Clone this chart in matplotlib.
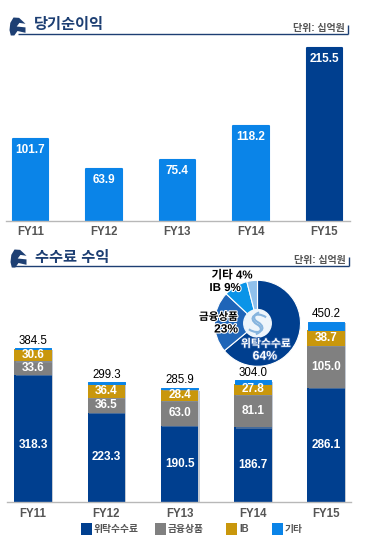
import matplotlib
matplotlib.use('Agg')
import matplotlib.pyplot as plt
import matplotlib.patheffects as pe
from matplotlib.path import Path
from matplotlib.patches import PathPatch, Circle, Rectangle

W, H = 371, 544
FONTS = ['Liberation Sans', 'Noto Sans CJK KR']

years = ['FY11', 'FY12', 'FY13', 'FY14', 'FY15']
net_income = [101.7, 63.9, 75.4, 118.2, 215.5]

brokerage = [318.3, 223.3, 190.5, 186.7, 286.1]
products = [33.6, 36.5, 63.0, 81.1, 105.0]
ib = [30.6, 36.4, 28.4, 27.8, 38.7]
other = [2.0, 3.1, 4.0, 8.4, 20.4]
totals = [384.5, 299.3, 285.9, 304.0, 450.2]

pie_names = ['위탁수수료', '금융상품', 'IB', '기타']
pie_shares = [64, 23, 9, 4]

NAVY = '#003f8f'
GREY = '#808080'
GOLD = '#c9970c'
BLUE = '#0a84e8'
pie_colors = [NAVY, '#1f65b8', '#0a94e8', '#8fc0ec']
shadow = [pe.SimplePatchShadow(offset=(1, -1), shadow_rgbFace='#8a97a8', alpha=0.5), pe.Normal()]


def px_axes(fig, x0, y0, x1, y1):
    # пиксели картинки -> координаты фигуры
    return fig.add_axes([x0 / W, 1 - y1 / H, (x1 - x0) / W, (y1 - y0) / H])


def style_axes(ax):
    for s in ['top', 'left', 'right']:
        ax.spines[s].set_visible(False)
    ax.spines['bottom'].set_color('#b8b8b8')
    ax.spines['bottom'].set_linewidth(1.0)
    ax.patch.set_alpha(0)
    ax.set_yticks([])
    ax.set_xticks(range(5))
    ax.set_xticklabels(years, family=FONTS, fontsize=8.3, fontweight='bold', color='#555555')
    ax.tick_params(axis='x', length=0, pad=4)


fig = plt.figure(figsize=(W / 100, H / 100), dpi=100)

# overlay in pixel coordinates for headers and legend
over = fig.add_axes([0, 0, 1, 1])
over.set_xlim(0, W)
over.set_ylim(H, 0)
over.axis('off')

# top chart
ax1 = px_axes(fig, 6, 40, 350, 220.5)
style_axes(ax1)
ax1.set_xlim((6 - 30.3) / 73.5, (350 - 30.3) / 73.5)
ax1.set_ylim(0, 180.5 / 0.802)
colors1 = [BLUE, BLUE, BLUE, BLUE, NAVY]
bars = ax1.bar(range(5), net_income, width=35.5 / 73.5, color=colors1, edgecolor=colors1,
               linewidth=1.5, joinstyle='round')
for b in bars:
    b.set_path_effects(shadow)
for i, v in enumerate(net_income):
    ax1.annotate(f'{v:.1f}', (i, v), xytext=(0, -8), textcoords='offset points', ha='center', va='center',
                 family=FONTS, fontsize=8.5, fontweight='bold', color='white')

# bottom chart
ax2 = px_axes(fig, 6.5, 310, 351, 502)
style_axes(ax2)
ax2.set_xlim((6.5 - 33) / 73.3, (351 - 33) / 73.3)
ax2.set_ylim(0, 192 / 0.4)
bottom = [0, 0, 0, 0, 0]
series = [(brokerage, NAVY), (products, GREY), (ib, GOLD), (other, BLUE)]
label_shift = [-7, 0, 0, 0, 0]
for k, (vals, c) in enumerate(series):
    if k == 3:
        seg = ax2.bar(range(5), vals, bottom=bottom, width=36.5 / 73.3, color=c, edgecolor=c,
                      linewidth=0.7, joinstyle='round')
    else:
        seg = ax2.bar(range(5), vals, bottom=bottom, width=37.5 / 73.3, color=c)
    for b in seg:
        b.set_path_effects(shadow)
    if k < 3:
        for i, v in enumerate(vals):
            ax2.annotate(f'{v:.1f}', (i, bottom[i] + v / 2),
                         xytext=(0, label_shift[i] * 0.72 if k == 0 else 0), textcoords='offset points',
                         ha='center', va='center', family=FONTS, fontsize=8.5, fontweight='bold', color='white',
                         zorder=5)
    bottom = [a + b for a, b in zip(bottom, vals)]
for i, v in enumerate(totals):
    ax2.annotate(f'{v:.1f}', (i, v), xytext=(0, 5.5), textcoords='offset points', ha='center', va='center',
                 family=FONTS, fontsize=8.3, color='black')

# pie
cx, cy, r = 257.5, 323.3, 43
ax3 = px_axes(fig, cx - r, cy - r, cx + r, cy + r)
ax3.pie(pie_shares, colors=pie_colors, startangle=90, counterclock=False, radius=1.0,
        wedgeprops=dict(edgecolor='white', linewidth=0.8))
ax3.set_xlim(-1, 1)
ax3.set_ylim(-1, 1)
ax3.add_patch(Circle((0, 0), 0.32, color='#eef5fb', zorder=5))
codes = [Path.MOVETO, Path.CURVE4, Path.CURVE4, Path.CURVE4, Path.CURVE4, Path.CURVE4, Path.CURVE4]
s_hi = Path([(0.20, 0.14), (-0.04, 0.30), (-0.24, 0.12), (-0.02, -0.02), (0.14, -0.10), (0.08, -0.22), (-0.04, -0.25)], codes)
s_lo = Path([(-0.20, -0.14), (0.04, -0.30), (0.24, -0.12), (0.02, 0.02), (-0.14, 0.10), (-0.08, 0.22), (0.04, 0.25)], codes)
for p in [s_hi, s_lo]:
    ax3.add_patch(PathPatch(p, fill=False, edgecolor='#86b4de', linewidth=1.5, zorder=6))

halo = [pe.withStroke(linewidth=1.6, foreground='white')]
dark = [pe.withStroke(linewidth=1.2, foreground='#2a5ea8')]
pie_text = [
    (232, 275.5, f'{pie_names[3]} {pie_shares[3]}%', 8.3, 'black', halo),
    (225, 288, f'{pie_names[2]} {pie_shares[2]}%', 8.3, 'black', halo),
    (218.5, 317, pie_names[1], 7.6, 'black', halo),
    (226, 329.5, f'{pie_shares[1]}%', 8.6, 'black', halo),
    (266, 344, pie_names[0], 7.8, 'white', dark),
    (265, 356.5, f'{pie_shares[0]}%', 8.8, 'white', dark),
]
for x, y, s, size, c, fx in pie_text:
    t = fig.text(x / W, 1 - y / H, s, ha='center', va='center', family=FONTS, fontsize=size,
                 fontweight='bold', color=c, zorder=10)
    t.set_path_effects(fx)

# headers
TITLE = '#1d3f73'
icon = [(0.25, 0), (0.6, 0.02), (1, 0.35), (0.62, 0.3), (0.45, 0.5), (1, 0.55), (1, 0.85), (0.5, 0.75),
        (0.3, 1), (0.08, 1), (0, 0.7), (0.05, 0.3)]
for x0, y0, yl, xl0, xl1, title in [(9.5, 17.5, 33.5, 18, 348, '당기순이익'), (10.5, 249.5, 266, 12, 349, '수수료 수익')]:
    over.plot([xl0, xl1], [yl, yl], color=TITLE, lw=1.0, solid_capstyle='butt')
    over.plot([xl1, xl1], [yl - 9, yl], color=TITLE, lw=1.0, solid_capstyle='butt')
    over.fill([x0 + px * 16 for px, py in icon], [y0 + py * 18 for px, py in icon], color=TITLE, lw=0)
    over.text(x0 + 24.5, yl - 8, title, ha='left', va='center', family=FONTS, fontsize=11,
              fontweight='bold', color=TITLE)
    over.text(xl1 - 3, yl - 5.5, '단위: 십억원', ha='right', va='center', family=FONTS, fontsize=7.2,
              fontweight='bold', color='#555555')

# legend
legend_x = [81, 155, 226, 272]
legend_names = ['위탁수수료', '금융상품', 'IB', '기타']
legend_colors = [NAVY, GREY, GOLD, BLUE]
for x, name, c in zip(legend_x, legend_names, legend_colors):
    over.add_patch(Rectangle((x, 523), 11, 11.5, color=c, lw=0))
    over.text(x + 13, 529, name, ha='left', va='center', family=FONTS, fontsize=7.0, fontweight='bold',
              color='#555555')

fig.savefig('out.png', dpi=100)
